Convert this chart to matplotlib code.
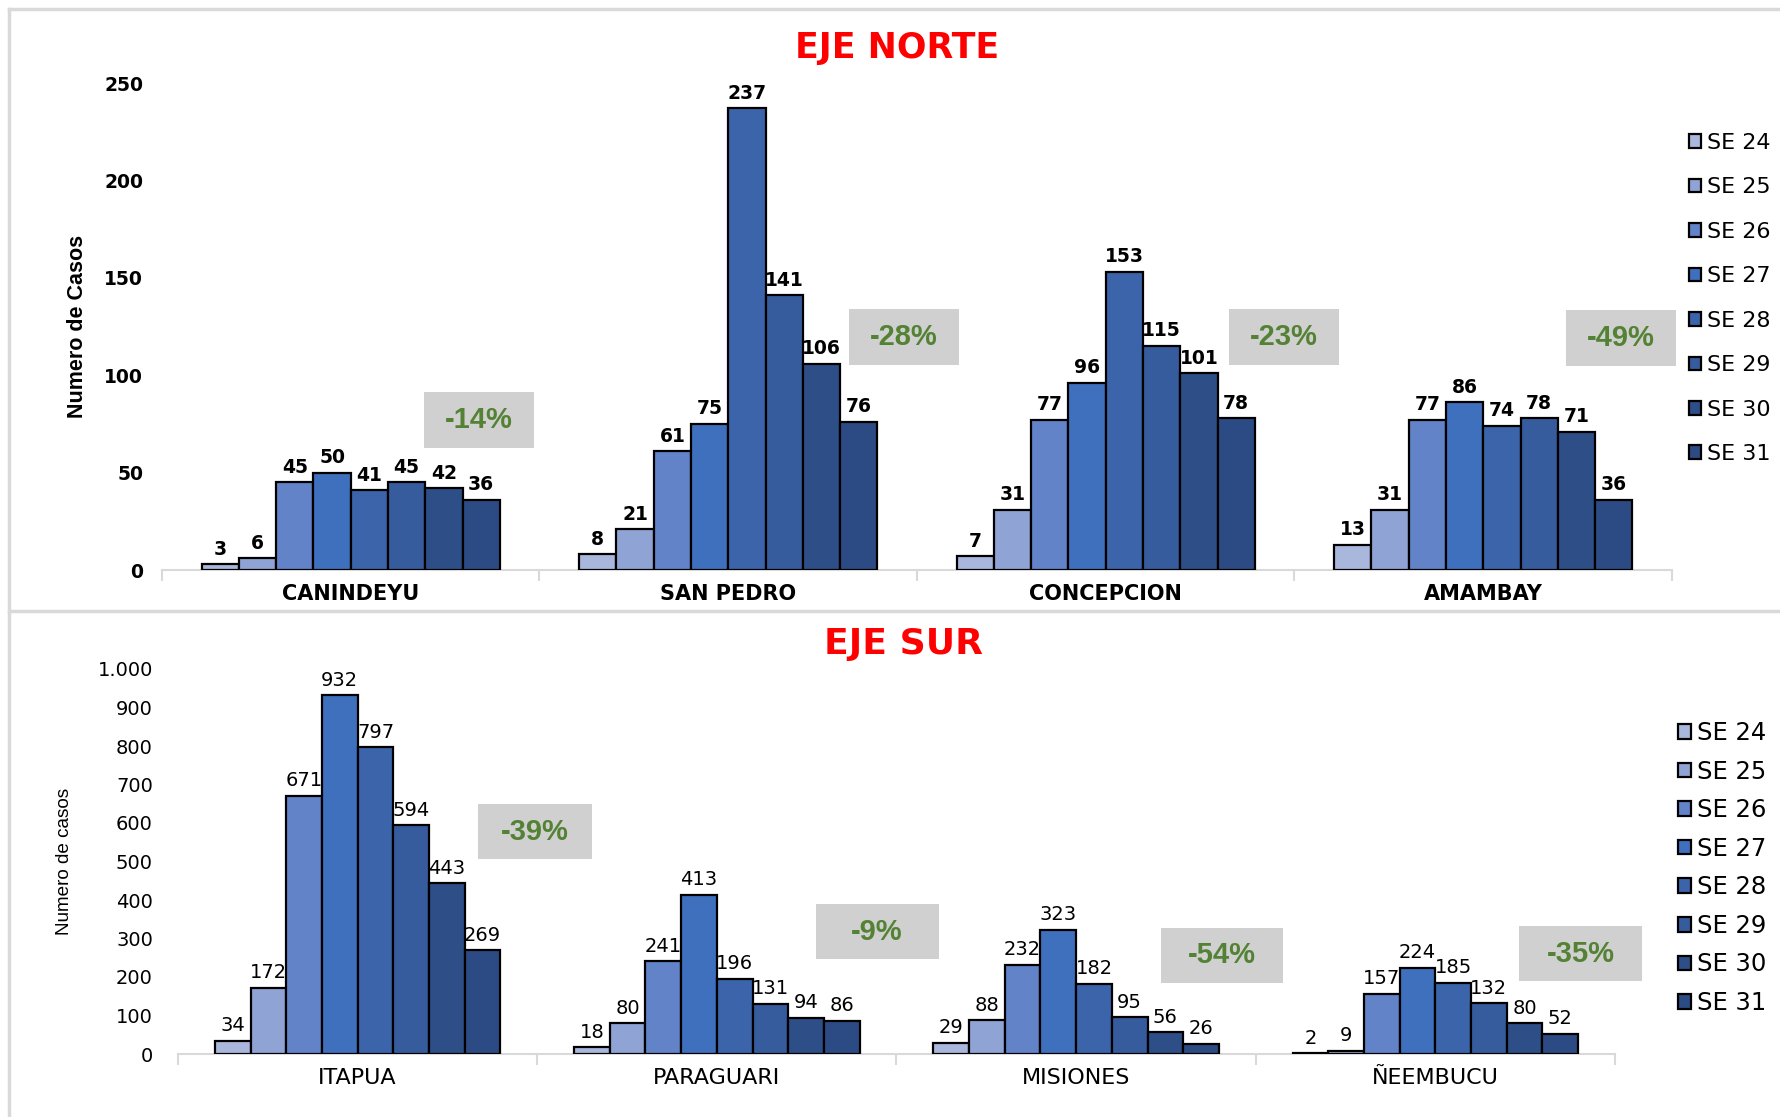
import numpy as np
import matplotlib.pyplot as plt
from matplotlib.patches import Rectangle
from matplotlib.lines import Line2D
from matplotlib.ticker import FuncFormatter, FixedLocator

plt.rcParams["font.family"] = ["DejaVu Sans"]

semanas = ["SE 24", "SE 25", "SE 26", "SE 27", "SE 28", "SE 29", "SE 30", "SE 31"]
colores = ["#aab7dd", "#8fa3d5", "#6283c8", "#3f70be", "#3b64aa", "#365c9e", "#2e4e88", "#2c4b84"]

norte_deptos = ["CANINDEYU", "SAN PEDRO", "CONCEPCION", "AMAMBAY"]
norte_casos = [
    [3, 6, 45, 50, 41, 45, 42, 36],
    [8, 21, 61, 75, 237, 141, 106, 76],
    [7, 31, 77, 96, 153, 115, 101, 78],
    [13, 31, 77, 86, 74, 78, 71, 36],
]
norte_var = ["-14%", "-28%", "-23%", "-49%"]

sur_deptos = ["ITAPUA", "PARAGUARI", "MISIONES", "ÑEEMBUCU"]
sur_casos = [
    [34, 172, 671, 932, 797, 594, 443, 269],
    [18, 80, 241, 413, 196, 131, 94, 86],
    [29, 88, 232, 323, 182, 95, 56, 26],
    [2, 9, 157, 224, 185, 132, 80, 52],
]
sur_var = ["-39%", "-9%", "-54%", "-35%"]

W, H = 1781, 1117
fig = plt.figure(figsize=(W / 100, H / 100), dpi=100)


def px_axes(x0, x1, ytop, ybot):
    return fig.add_axes([x0 / W, 1 - ybot / H, (x1 - x0) / W, (ybot - ytop) / H])


def draw_panel(ax, deptos, casos, ymax, ystep, bold, group_w, boxes, var, fmt,
               lab_size, cat_size, tick_size, tick_pad):
    n = len(semanas)
    bw = group_w / n
    x = np.arange(len(deptos))
    data = np.array(casos)
    weight = "bold" if bold else "normal"
    for j in range(n):
        pos = x - group_w / 2 + bw * (j + 0.5)
        bars = ax.bar(pos, data[:, j], width=bw, color=colores[j], edgecolor="black",
                      linewidth=1.6, label=semanas[j], zorder=3)
        ax.bar_label(bars, padding=4, fontsize=lab_size, fontweight=weight, color="black")
    ax.set_xlim(-0.5, len(deptos) - 0.5)
    ax.set_ylim(0, ymax)
    ax.set_yticks(np.arange(0, ymax + 1, ystep))
    ax.yaxis.set_major_formatter(FuncFormatter(fmt))
    for s in ["left", "right", "top"]:
        ax.spines[s].set_visible(False)
    ax.spines["bottom"].set_color("#d9d9d9")
    ax.spines["bottom"].set_linewidth(1.5)
    ax.set_xticks(x)
    ax.set_xticklabels(deptos, fontsize=cat_size, fontweight=weight)
    ax.xaxis.set_minor_locator(FixedLocator(np.arange(-0.5, len(deptos), 1.0)))
    ax.tick_params(axis="x", which="major", length=0, pad=10)
    ax.tick_params(axis="x", which="minor", length=8, color="#d9d9d9", width=1.5)
    ax.tick_params(axis="y", length=0, pad=tick_pad, labelsize=tick_size)
    for t in ax.get_yticklabels():
        t.set_fontweight(weight)
    for (cx, cy, bwid, bh), txt in zip(boxes, var):
        ax.add_patch(Rectangle((cx - bwid / 2, cy - bh / 2), bwid, bh, facecolor="#d0d0d0",
                               edgecolor="none", zorder=4, clip_on=False))
        ax.text(cx, cy, txt, ha="center", va="center", fontsize=21, fontweight="bold",
                color="#548235", zorder=5, family="Liberation Sans", clip_on=False)


# Eje Norte
ax1 = px_axes(162, 1672, 83, 570)
boxes_n = [(0.340, 77, 0.291, 28.7), (1.466, 119.6, 0.291, 28.7),
           (2.472, 119.6, 0.291, 28.7), (3.364, 119, 0.291, 28.7)]
draw_panel(ax1, norte_deptos, norte_casos, 250, 50, True, 0.79, boxes_n, norte_var,
           lambda v, p: f"{int(v)}", 13.5, 15, 13.5, 13.5)
ax1.set_ylabel("Numero de Casos", fontsize=15.5, fontweight="bold", family="Liberation Sans")
ax1.yaxis.set_label_coords(-0.0493, 0.5)
ax1.legend(loc="upper left", bbox_to_anchor=(1689 / W, 1 - 133 / H),
           bbox_transform=fig.transFigure, frameon=False, fontsize=16,
           handlelength=0.56, handleheight=0.56, handletextpad=0.27, labelspacing=1.1,
           borderaxespad=0, borderpad=0)

# Eje Sur
ax2 = px_axes(178, 1615, 669, 1054)
boxes_s = [(0.494, 577, 0.317, 143), (1.446, 318, 0.342, 143),
           (2.406, 256, 0.342, 143), (3.405, 260, 0.342, 143)]
draw_panel(ax2, sur_deptos, sur_casos, 1000, 100, False, 0.795, boxes_s, sur_var,
           lambda v, p: f"{int(v):,}".replace(",", "."), 14, 16, 14, 18)
ax2.set_ylabel("Numero de casos", fontsize=13.6, family="Liberation Sans")
ax2.yaxis.set_label_coords(-0.0733, 0.5)
ax2.legend(loc="upper left", bbox_to_anchor=(1678 / W, 1 - 721 / H),
           bbox_transform=fig.transFigure, frameon=False, fontsize=17.5,
           handlelength=0.54, handleheight=0.54, handletextpad=0.25, labelspacing=0.6,
           borderaxespad=0, borderpad=0)

fig.text(897 / W, 1 - 48 / H, "EJE NORTE", ha="center", va="center",
         fontsize=25, fontweight="bold", color="#ff0000")
fig.text(904 / W, 1 - 644 / H, "EJE SUR", ha="center", va="center",
         fontsize=26, fontweight="bold", color="#ff0000")

# marcos grises de los paneles
for xs, ys in [((9, W), (9, 9)), ((9, 9), (9, H)), ((9, W), (611, 611))]:
    fig.add_artist(Line2D([x / W for x in xs], [1 - y / H for y in ys],
                          color="#d9d9d9", linewidth=2.5))

fig.savefig("out.png", dpi=100)
